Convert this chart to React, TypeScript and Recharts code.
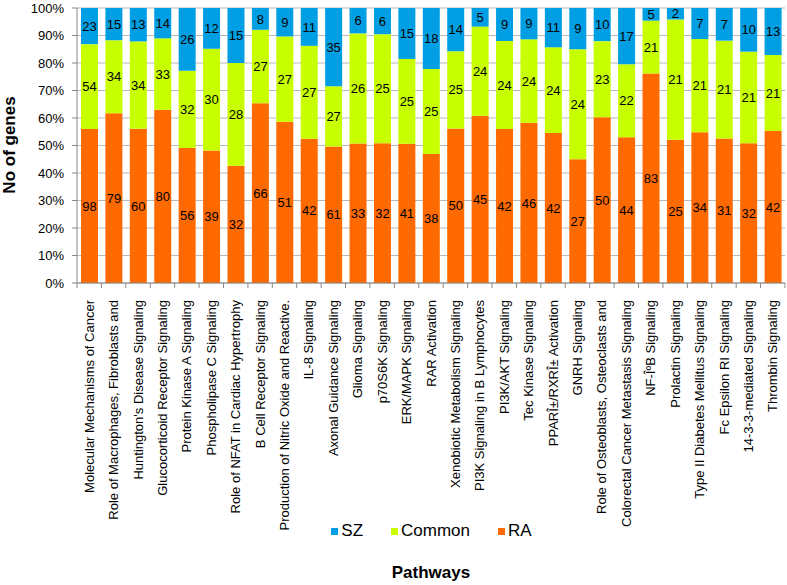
import React from 'react';
import { BarChart, Bar, XAxis, YAxis, CartesianGrid, Legend, LabelList } from 'recharts';

const pathways = [
  'Molecular Mechanisms of Cancer',
  'Role of Macrophages, Fibroblasts and',
  "Huntington's Disease Signaling",
  'Glucocorticoid Receptor Signaling',
  'Protein Kinase A  Signaling',
  'Phospholipase C Signaling',
  'Role of NFAT in Cardiac Hypertrophy',
  'B Cell Receptor Signaling',
  'Production of Nitric Oxide and Reactive.',
  'IL-8 Signaling',
  'Axonal Guidance Signaling',
  'Glioma Signaling',
  'p70S6K Signaling',
  'ERK/MAPK Signaling',
  'RAR Activation',
  'Xenobiotic Metabolism Signaling',
  'PI3K Signaling in B Lymphocytes',
  'PI3K/AKT Signaling',
  'Tec Kinase Signaling',
  'PPARÎ±/RXRÎ± Activation',
  'GNRH Signaling',
  'Role of Osteoblasts, Osteoclasts and',
  'Colorectal Cancer Metastasis Signaling',
  'NF-ÎºB Signaling',
  'Prolactin Signaling',
  'Type II Diabetes Mellitus Signaling',
  'Fc Epsilon RI Signaling',
  '14-3-3-mediated Signaling',
  'Thrombin Signaling',
];

const raCounts = [98, 79, 60, 80, 56, 39, 32, 66, 51, 42, 61, 33, 32, 41, 38, 50, 45, 42, 46, 42, 27, 50, 44, 83, 25, 34, 31, 32, 42];
const commonCounts = [54, 34, 34, 33, 32, 30, 28, 27, 27, 27, 27, 26, 25, 25, 25, 25, 24, 24, 24, 24, 24, 23, 22, 21, 21, 21, 21, 21, 21];
const szCounts = [23, 15, 13, 14, 26, 12, 15, 8, 9, 11, 35, 6, 6, 15, 18, 14, 5, 9, 9, 11, 9, 10, 17, 5, 2, 7, 7, 10, 13];

const yTicks = [0, 0.1, 0.2, 0.3, 0.4, 0.5, 0.6, 0.7, 0.8, 0.9, 1];

const data = pathways.map((name, i) => ({
  name,
  RA: raCounts[i],
  Common: commonCounts[i],
  SZ: szCounts[i],
}));

const COLORS = { SZ: '#009fe3', Common: '#c8ff00', RA: '#ff6a00' };
const FONT = 'Arial, "Liberation Sans", sans-serif';
const BAND = 708 / pathways.length;

const CategoryTick = (props: any) => {
  const { x, y, payload, index } = props;
  const left = x - BAND / 2;
  return (
    <g>
      <line x1={left} y1={283} x2={left} y2={288} stroke="#888" />
      {index === pathways.length - 1 && (
        <line x1={x + BAND / 2} y1={283} x2={x + BAND / 2} y2={288} stroke="#888" />
      )}
      <g transform={`translate(${x},${y})`}>
        <text
          transform="rotate(-90)"
          x={-9}
          y={0}
          dy="0.35em"
          textAnchor="end"
          fontSize={13}
          fontFamily={FONT}
          fill="#000"
        >
          {payload.value}
        </text>
      </g>
    </g>
  );
};

const renderLegend = () => {
  const items: [string, string][] = [
    ['SZ', COLORS.SZ],
    ['Common', COLORS.Common],
    ['RA', COLORS.RA],
  ];
  return (
    <div style={{ display: 'flex', justifyContent: 'center', fontFamily: FONT, fontSize: 17, color: '#000', paddingLeft: 76 }}>
      {items.map(([label, color]) => (
        <div key={label} style={{ display: 'flex', alignItems: 'center', marginRight: label === 'RA' ? 0 : 28 }}>
          <span style={{ display: 'inline-block', width: 7, height: 7, background: color, marginRight: 3 }} />
          <span>{label}</span>
        </div>
      ))}
    </div>
  );
};

export default function App() {
  return (
    <div style={{ position: 'absolute', left: 0, top: 0, width: 787, height: 585, background: '#fff' }}>
      <BarChart
        width={787}
        height={585}
        data={data}
        stackOffset="expand"
        barSize={17}
        margin={{ top: 8, right: 2, bottom: 0, left: 0 }}
      >
        <CartesianGrid vertical={false} stroke="#b8b8b8" />
        <XAxis
          dataKey="name"
          interval={0}
          height={282}
          tick={<CategoryTick />}
          tickLine={false}
          axisLine={{ stroke: '#888' }}
        />
        <YAxis
          width={77}
          domain={[0, 1]}
          ticks={yTicks}
          tickFormatter={(v: number) => `${Math.round(v * 100)}%`}
          tick={{ fontSize: 13, fontFamily: FONT, fill: '#000' }}
          tickSize={5}
          tickMargin={8}
          axisLine={{ stroke: '#888' }}
          tickLine={{ stroke: '#888' }}
        />
        <Legend
          verticalAlign="bottom"
          content={renderLegend}
          wrapperStyle={{ left: 0, width: 787, height: 20, top: 521 }}
        />
        <Bar dataKey="RA" stackId="a" fill={COLORS.RA} isAnimationActive={false}>
          <LabelList dataKey="RA" position="center" fontSize={13} fontFamily={FONT} fill="#000" />
        </Bar>
        <Bar dataKey="Common" stackId="a" fill={COLORS.Common} isAnimationActive={false}>
          <LabelList dataKey="Common" position="center" fontSize={13} fontFamily={FONT} fill="#000" />
        </Bar>
        <Bar dataKey="SZ" stackId="a" fill={COLORS.SZ} isAnimationActive={false}>
          <LabelList dataKey="SZ" position="center" fontSize={13} fontFamily={FONT} fill="#000" />
        </Bar>
        <text x={15} y={145} transform="rotate(-90 15 145)" textAnchor="middle" fontSize={17} fontWeight="bold" fontFamily={FONT} fill="#000">
          No of genes
        </text>
        <text x={431} y={578} textAnchor="middle" fontSize={17} fontWeight="bold" fontFamily={FONT} fill="#000">
          Pathways
        </text>
      </BarChart>
    </div>
  );
}
